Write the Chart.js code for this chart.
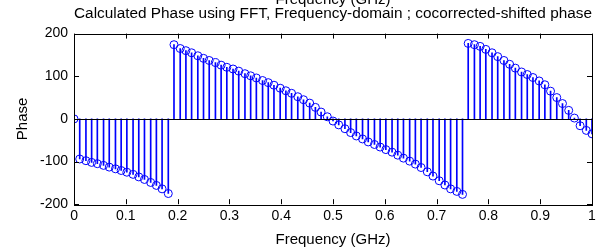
<!DOCTYPE html>
<html>
<head>
<meta charset="utf-8">
<script src="https://cdn.jsdelivr.net/npm/chart.js@4.4.1/dist/chart.umd.min.js"></script>
<style>
  body { margin: 0; background: #fff; }
</style>
</head>
<body>
<canvas id="phaseChart" width="602" height="250"></canvas>
<script>
// frequency bins (GHz)
const freq = [
  0, 0.011, 0.023, 0.034, 0.045, 0.057, 0.068, 0.080, 0.091, 0.102,
  0.114, 0.125, 0.136, 0.148, 0.159, 0.170, 0.182, 0.193, 0.205, 0.216,
  0.227, 0.239, 0.250, 0.261, 0.273, 0.284, 0.295, 0.307, 0.318, 0.330,
  0.341, 0.352, 0.364, 0.375, 0.386, 0.398, 0.409, 0.420, 0.432, 0.443,
  0.455, 0.466, 0.477, 0.489, 0.500, 0.511, 0.523, 0.534, 0.545, 0.557,
  0.568, 0.580, 0.591, 0.602, 0.614, 0.625, 0.636, 0.648, 0.659, 0.670,
  0.682, 0.693, 0.705, 0.716, 0.727, 0.739, 0.750, 0.761, 0.773, 0.784,
  0.795, 0.807, 0.818, 0.830, 0.841, 0.852, 0.864, 0.875, 0.886, 0.898,
  0.909, 0.920, 0.932, 0.943, 0.955, 0.966, 0.977, 0.989, 1.000
];

// phase (degrees)
const phase = [
  0, -94, -98, -102, -105, -109, -113, -117, -121, -125,
  -130, -136, -142, -149, -156, -164, -175, 174, 165, 160,
  155, 148, 142, 137, 132, 126, 121, 117, 112, 106,
  101, 96, 90, 85, 79, 72, 66, 60, 52, 45,
  37, 27, 16, 5, -5, -14, -23, -32, -40, -47,
  -54, -60, -66, -72, -78, -85, -92, -99, -106, -114,
  -124, -134, -145, -155, -164, -170, -177, 177, 174, 170,
  163, 155, 146, 137, 128, 119, 110, 104, 97, 89,
  80, 65, 50, 36, 20, 2, -16, -27, -35
];

const xTicks = [0, 0.1, 0.2, 0.3, 0.4, 0.5, 0.6, 0.7, 0.8, 0.9, 1];
const yTicks = [-200, -100, 0, 100, 200];

const points = freq.map((f, i) => ({ x: f, y: phase[i] }));
const FONT = 'Liberation Sans, Arial, Helvetica, sans-serif';

// matlab style box, inward ticks on all sides, zero baseline, clipped top label
const matlabAxes = {
  id: 'matlabAxes',
  afterDraw(chart) {
    const { ctx, chartArea: a, scales } = chart;
    const tl = 5;
    ctx.save();
    ctx.strokeStyle = '#000';
    ctx.lineWidth = 1;
    ctx.beginPath();
    xTicks.forEach(v => {
      const px = Math.round(scales.x.getPixelForValue(v)) + 0.5;
      ctx.moveTo(px, a.bottom); ctx.lineTo(px, a.bottom - tl);
      ctx.moveTo(px, a.top); ctx.lineTo(px, a.top + tl);
    });
    yTicks.forEach(v => {
      const py = Math.round(scales.y.getPixelForValue(v)) + 0.5;
      ctx.moveTo(a.left, py); ctx.lineTo(a.left + tl, py);
      ctx.moveTo(a.right, py); ctx.lineTo(a.right - tl, py);
    });
    ctx.stroke();
    ctx.strokeRect(Math.round(a.left) + 0.5, Math.round(a.top) + 0.5,
      Math.round(a.right - a.left), Math.round(a.bottom - a.top));
    // stem baseline
    const y0 = Math.round(scales.y.getPixelForValue(0)) + 0.5;
    ctx.beginPath();
    ctx.moveTo(a.left, y0); ctx.lineTo(a.right, y0);
    ctx.stroke();
    // leftover x label cut off at the top edge
    ctx.fillStyle = '#000';
    ctx.font = '15px ' + FONT;
    ctx.textAlign = 'center';
    ctx.textBaseline = 'alphabetic';
    ctx.fillText('Frequency (GHz)', (a.left + a.right) / 2, 4);
    ctx.restore();
  }
};

new Chart(document.getElementById('phaseChart'), {
  type: 'bar',
  data: {
    datasets: [
      {
        type: 'scatter',
        data: points,
        order: 0,
        showLine: false,
        pointStyle: 'circle',
        pointRadius: 4,
        pointBorderWidth: 1,
        pointBorderColor: '#0000ff',
        pointBackgroundColor: 'rgba(0,0,0,0)'
      },
      {
        type: 'bar',
        data: points,
        order: 1,
        barThickness: 1,
        backgroundColor: '#0000ff',
        borderWidth: 0
      }
    ]
  },
  plugins: [matlabAxes],
  options: {
    responsive: false,
    animation: false,
    devicePixelRatio: 1,
    layout: { padding: { left: 10, right: 10, top: 0, bottom: 0 } },
    plugins: {
      legend: { display: false },
      tooltip: { enabled: false },
      title: {
        display: true,
        fullSize: false,
        text: 'Calculated Phase using FFT, Frequency-domain ; cocorrected-shifted phase',
        color: '#000',
        font: { family: FONT, size: 15.5, weight: 'normal' },
        padding: { top: 4, bottom: 11 }
      }
    },
    scales: {
      x: {
        type: 'linear',
        min: 0,
        max: 1,
        offset: false,
        grid: { display: false, drawTicks: false },
        border: { display: false },
        afterBuildTicks: s => { s.ticks = xTicks.map(v => ({ value: v })); },
        ticks: {
          color: '#000',
          padding: 4,
          font: { family: FONT, size: 14 },
          callback: v => String(v)
        },
        title: {
          display: true,
          text: 'Frequency (GHz)',
          color: '#000',
          font: { family: FONT, size: 15 },
          padding: { top: 2, bottom: 1 }
        }
      },
      y: {
        min: -200,
        max: 200,
        grid: { display: false, drawTicks: false },
        border: { display: false },
        afterBuildTicks: s => { s.ticks = yTicks.map(v => ({ value: v })); },
        ticks: {
          color: '#000',
          padding: 6,
          font: { family: FONT, size: 14 }
        },
        title: {
          display: true,
          text: 'Phase',
          color: '#000',
          font: { family: FONT, size: 15 },
          padding: { top: 4, bottom: 2 }
        }
      }
    }
  }
});
</script>
</body>
</html>
